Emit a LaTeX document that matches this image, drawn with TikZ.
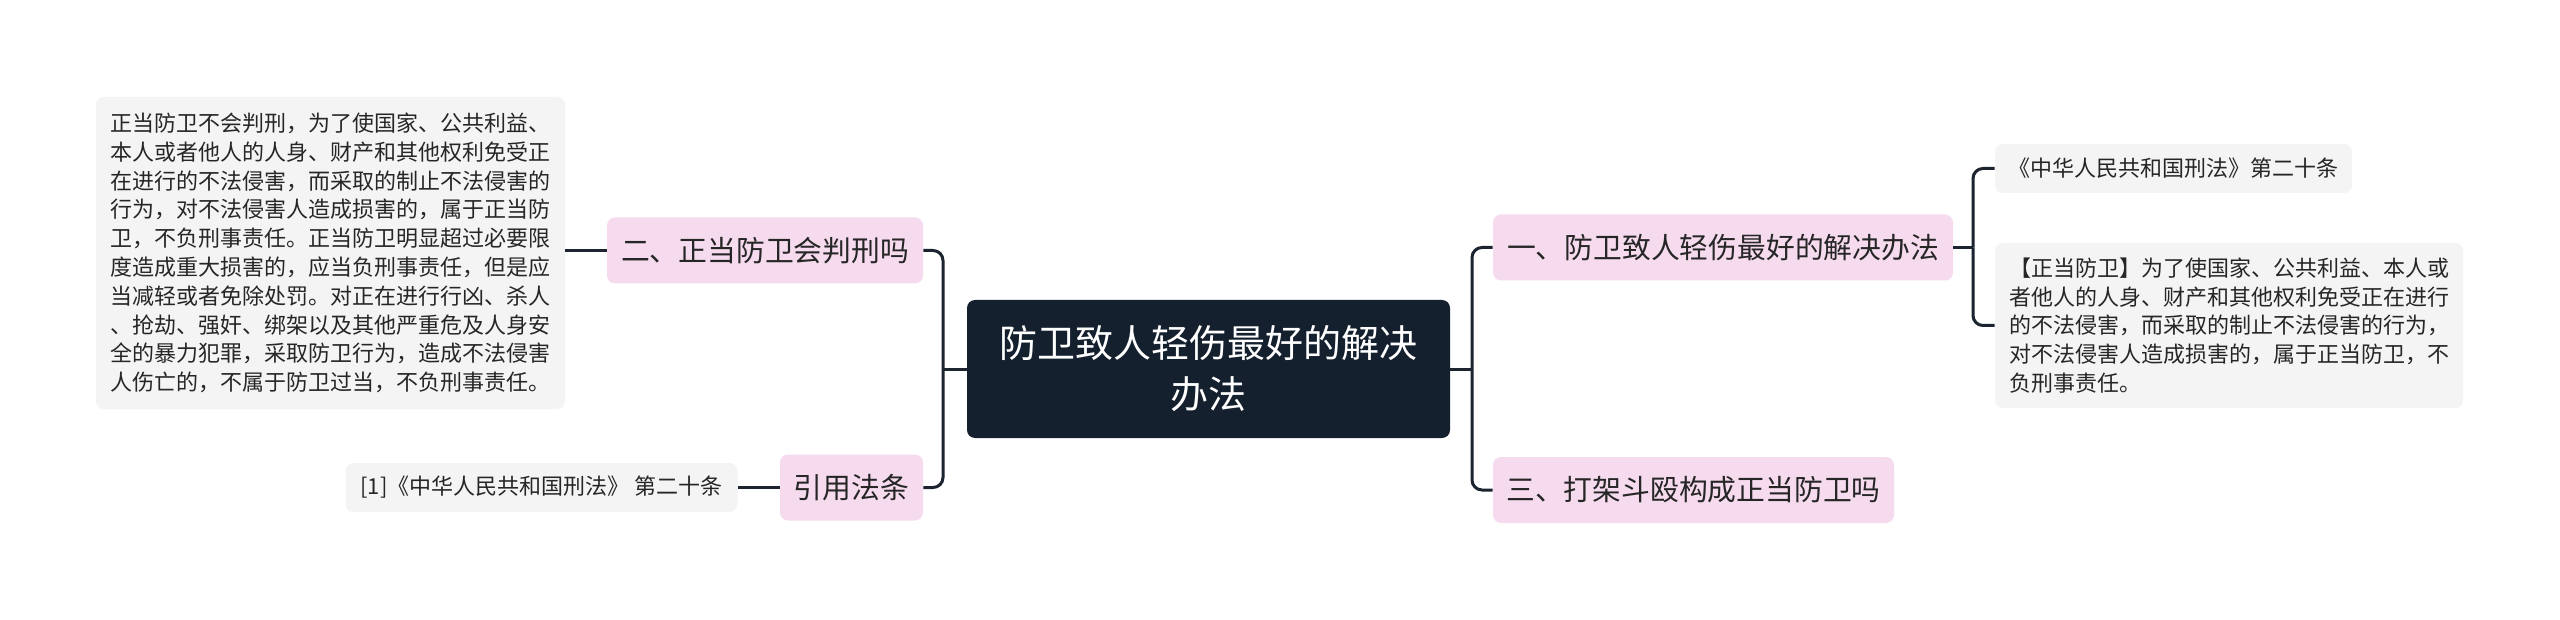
\documentclass[tikz,border=0pt]{standalone}
\usepackage{fontspec}
\setmainfont{Noto Sans CJK SC}
\usepackage{tikz}
\definecolor{rootbg}{HTML}{15202E}
\definecolor{pinkbg}{HTML}{F6DBEE}
\definecolor{leafbg}{HTML}{F4F4F4}
\definecolor{linkcol}{HTML}{1C2430}

\begin{document}
\begin{tikzpicture}[x=0.5pt,y=-0.5pt]
    \tikzstyle{every node}+=[inner sep=0pt]
    \tikzstyle{rootbox}=[fill=rootbg, text=white, rounded corners=4pt, align=center, font=\fontsize{19}{25.5}\selectfont]
    \tikzstyle{topicbox}=[fill=pinkbg, text=black!85, rounded corners=4pt, minimum height=33pt, font=\fontsize{14.4}{18}\selectfont]
    \tikzstyle{leafbox}=[fill=leafbg, text=black!85, rounded corners=4pt, align=left, font=\fontsize{11}{14.4}\selectfont]
    \tikzstyle{link}=[draw=linkcol, line width=1.5pt, rounded corners=5pt]
    \useasboundingbox [fill=white] (0,0) rectangle (2560,620);
    % root
    \node [rootbox, minimum width=241.5pt, minimum height=69pt] (root) at (1208.5,369) {防卫致人轻伤最好的解决\\办法};
    % right side
    \node [topicbox, minimum width=230pt] (one) at (1723,247.5) {一、防卫致人轻伤最好的解决办法};
    \node [topicbox, minimum width=200.5pt] (three) at (1693.5,490) {三、打架斗殴构成正当防卫吗};
    \node [leafbox, minimum width=178.5pt, minimum height=24.5pt] (law1) at (2173.5,168.5) {《中华人民共和国刑法》第二十条};
    \node [leafbox, minimum width=234pt, minimum height=82.5pt] (def) at (2229,325.5) {【正当防卫】为了使国家、公共利益、本人或\\者他人的人身、财产和其他权利免受正在进行\\的不法侵害，而采取的制止不法侵害的行为，\\对不法侵害人造成损害的，属于正当防卫，不\\负刑事责任。};
    % left side
    \node [topicbox, minimum width=158pt] (two) at (765,250.5) {二、正当防卫会判刑吗};
    \node [topicbox, minimum width=71.5pt] (cite) at (851.5,487.5) {引用法条};
    \node [leafbox, minimum width=234.5pt, minimum height=156pt] (answer) at (330.5,253) {正当防卫不会判刑，为了使国家、公共利益、\\本人或者他人的人身、财产和其他权利免受正\\在进行的不法侵害，而采取的制止不法侵害的\\行为，对不法侵害人造成损害的，属于正当防\\卫，不负刑事责任。正当防卫明显超过必要限\\度造成重大损害的，应当负刑事责任，但是应\\当减轻或者免除处罚。对正在进行行凶、杀人\\、抢劫、强奸、绑架以及其他严重危及人身安\\全的暴力犯罪，采取防卫行为，造成不法侵害\\人伤亡的，不属于防卫过当，不负刑事责任。};
    \node [leafbox, minimum width=196pt, minimum height=24.5pt] (law2) at (541.5,487.5) {[1]《中华人民共和国刑法》 第二十条};
    % connectors
    \coordinate (rj) at (1472,369);
    \coordinate (lj) at (943,369);
    \coordinate (sj) at (1973,247.5);
    \draw [link] (root.east) -- (rj);
    \draw [link] (rj) |- (one.west);
    \draw [link] (rj) |- (three.west);
    \draw [link] (one.east) -- (sj);
    \draw [link] (sj) |- (law1.west);
    \draw [link] (sj) |- (def.west);
    \draw [link] (root.west) -- (lj);
    \draw [link] (lj) |- (two.east);
    \draw [link] (lj) |- (cite.east);
    \draw [link] (two.west) -- (two.west -| answer.east);
    \draw [link] (cite.west) -- (law2.east);
\end{tikzpicture}
\end{document}
